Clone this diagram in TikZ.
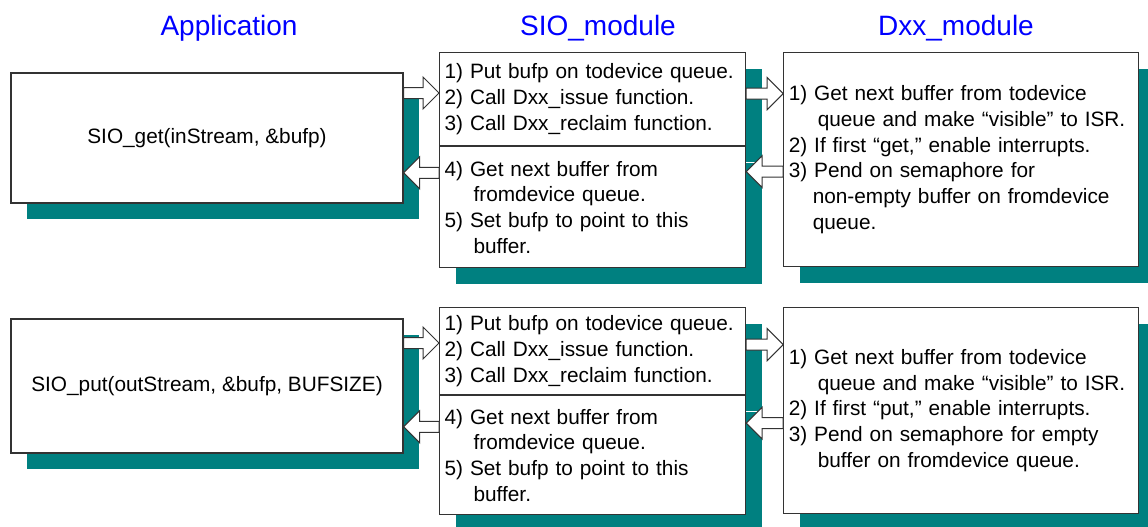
\documentclass[tikz,border=0pt]{standalone}
\usepackage{fontspec}
\setmainfont{Liberation Sans}
\usepackage{tikz}
\usetikzlibrary{positioning,shadows,calc}
\definecolor{sioteal}{HTML}{008080}
\definecolor{sioblue}{HTML}{0000FF}
\definecolor{siogris}{HTML}{333333}

\begin{document}
\begin{tikzpicture}[
    x=0.5pt, y=-0.5pt,
    font=\fontsize{10.4}{12.9}\selectfont,
    panel/.style={draw=siogris, line width=0.6pt, fill=white, inner xsep=2.5pt, inner ysep=0pt,
      drop shadow={shadow xshift=8pt, shadow yshift=-8pt, fill=sioteal, opacity=1}},
    appbox/.style={panel, align=center, minimum width=196pt},
    siobox/.style={panel, align=left, text width=148pt, minimum width=153pt},
    dxxbox/.style={panel, align=left, text width=172.5pt, minimum width=177.5pt},
    heading/.style={font=\fontsize{14}{16}\selectfont, text=sioblue, anchor=base},
    fatarrow/.style={draw=siogris, line width=0.5pt, fill=white,
      to path={let \p1=(\tikztostart), \p2=(\tikztotarget),
        \p3=($(\x2,\y1)!8pt!(\x1,\y1)$) in
        (\x1,\y1+2.75pt) -- (\x3,\y1+2.75pt) -- (\x3,\y1+8pt) -- (\x2,\y1)
        -- (\x3,\y1-8pt) -- (\x3,\y1-2.75pt) -- (\x1,\y1-2.75pt) -- cycle}}
  ]
    \useasboundingbox (0,0) rectangle (1148,526);
    % Titres
    \node[heading] (apptitle) at (229,35) {Application};
    \node[heading] (siotitle) at (598,35) {SIO\_module};
    \node[heading] (dxxtitle) at (956,35) {Dxx\_module};
    % get
    \node[appbox, minimum height=65pt] (appget) at (207,138) {SIO\_get(inStream, \&bufp)};
    \node[siobox, minimum height=46.5pt, anchor=north west] (siogettop) at (439,52)
      {1) Put bufp on todevice queue.\\2) Call Dxx\_issue function.\\3) Call Dxx\_reclaim function.};
    \node[siobox, minimum height=60.5pt, below=0pt of siogettop] (siogetbot)
      {4) Get next buffer from\\\hspace*{14.5pt}fromdevice queue.\\5) Set bufp to point to this\\\hspace*{14.5pt}buffer.};
    \node[dxxbox, minimum height=107pt, right=18.5pt of siogettop.north east, anchor=north west] (dxxget)
      {1) Get next buffer from todevice\\\hspace*{14.5pt}queue and make “visible” to ISR.\\2) If first “get,” enable interrupts.\\3) Pend on semaphore for\\\hspace*{12pt}non-empty buffer on fromdevice\\\hspace*{12pt}queue.};
    % put
    \node[appbox, minimum height=67pt] (appput) at (207,386) {SIO\_put(outStream, \&bufp, BUFSIZE)};
    \node[siobox, minimum height=43.5pt, anchor=north west] (sioputtop) at (439,307)
      {1) Put bufp on todevice queue.\\2) Call Dxx\_issue function.\\3) Call Dxx\_reclaim function.};
    \node[siobox, minimum height=59.5pt, below=0pt of sioputtop] (sioputbot)
      {4) Get next buffer from\\\hspace*{14.5pt}fromdevice queue.\\5) Set bufp to point to this\\\hspace*{14.5pt}buffer.};
    \node[dxxbox, minimum height=103pt, right=18.5pt of sioputtop.north east, anchor=north west] (dxxput)
      {1) Get next buffer from todevice\\\hspace*{14.5pt}queue and make “visible” to ISR.\\2) If first “put,” enable interrupts.\\3) Pend on semaphore for empty\\\hspace*{14.5pt}buffer on fromdevice queue.};
    % Flèches
    \draw[fatarrow] ([yshift=22.5pt]appget.east) to (siogettop.west);
    \draw[fatarrow] ([yshift=17.25pt]siogetbot.west) to (appget.east);
    \draw[fatarrow] ([yshift=2.75pt]siogettop.east) to (dxxget.west);
    \draw[fatarrow] ([yshift=-6pt]dxxget.west) to (siogetbot.east);
    \draw[fatarrow] ([yshift=21.5pt]appput.east) to (sioputtop.west);
    \draw[fatarrow] ([yshift=14.25pt]sioputbot.west) to (appput.east);
    \draw[fatarrow] ([yshift=3.25pt]sioputtop.east) to (dxxput.west);
    \draw[fatarrow] ([yshift=-6.25pt]dxxput.west) to (sioputbot.east);
  \end{tikzpicture}
\end{document}
